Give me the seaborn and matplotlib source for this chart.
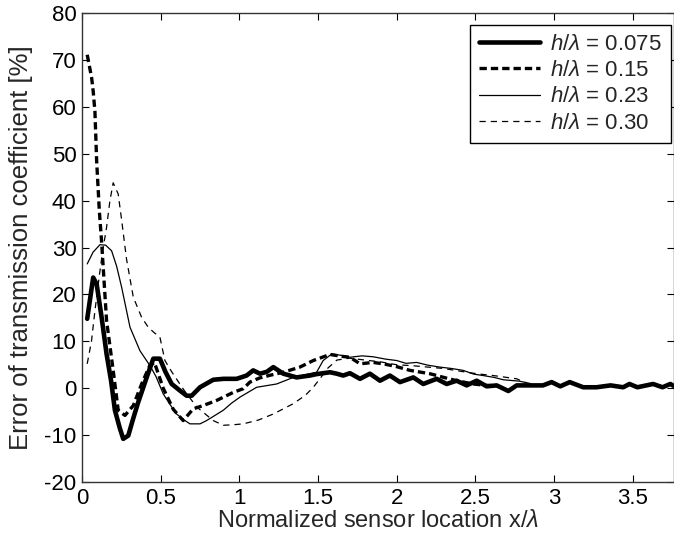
import matplotlib
matplotlib.use("Agg")
import matplotlib.pyplot as plt
import seaborn as sns
import numpy as np
import pandas as pd

# ---------------- data ----------------
x_075 = [0.033, 0.071, 0.093, 0.125, 0.156, 0.185, 0.209, 0.24, 0.262, 0.294, 0.325, 0.357,
         0.411, 0.453, 0.495, 0.53, 0.57, 0.622, 0.665, 0.697, 0.75, 0.792, 0.834, 0.9, 0.983,
         1.046, 1.088, 1.131, 1.175, 1.216, 1.279, 1.322, 1.364, 1.405, 1.449, 1.49, 1.533,
         1.576, 1.619, 1.66, 1.703, 1.767, 1.83, 1.894, 1.957, 2.021, 2.106, 2.169, 2.254,
         2.318, 2.381, 2.445, 2.509, 2.572, 2.636, 2.71, 2.763, 2.85, 2.93, 2.985, 3.04, 3.1,
         3.186, 3.27, 3.36, 3.44, 3.48, 3.53, 3.63, 3.69, 3.74, 3.76]
y_075 = [14.8, 23.6, 22.2, 15.0, 7.3, 1.5, -4.7, -8.5, -10.8, -10.1, -6.5, -3.0,
         2.3, 6.3, 6.3, 3.5, 0.9, -0.5, -1.6, -1.6, 0.2, 1.0, 1.8, 2.0, 2.0,
         2.7, 3.8, 3.1, 3.5, 4.5, 3.1, 2.7, 2.3, 2.5, 2.7, 3.0, 3.2,
         3.4, 3.1, 2.7, 3.2, 2.0, 3.1, 1.6, 2.7, 1.3, 2.3, 0.9, 2.0,
         0.9, 1.6, 0.6, 1.6, 0.4, 0.6, -0.6, 0.6, 0.6, 0.6, 1.3, 0.4, 1.3,
         0.2, 0.2, 0.6, 0.2, 0.9, 0.2, 0.9, 0.2, 0.9, 0.5]

x_15 = [0.033, 0.061, 0.071, 0.082, 0.093, 0.11, 0.124, 0.156, 0.198, 0.23, 0.273, 0.326,
        0.379, 0.43, 0.46, 0.516, 0.58, 0.643, 0.707, 0.77, 0.856, 0.961, 1.025, 1.067,
        1.13, 1.2, 1.28, 1.385, 1.47, 1.576, 1.65, 1.703, 1.767, 1.85, 1.915, 2.0, 2.085,
        2.21, 2.3, 2.381, 2.487, 2.57, 2.65]
y_15 = [71.1, 66.2, 63.3, 59.0, 48.4, 37.8, 31.4, 14.4, 3.8, -4.7, -5.8, -3.7,
        0.9, 4.8, 5.5, 0.0, -4.5, -6.9, -4.4, -3.7, -2.6, -0.9, -0.1, 1.3,
        2.2, 2.8, 3.4, 4.5, 5.9, 7.2, 6.8, 6.6, 5.2, 5.5, 5.2, 4.6, 3.8,
        3.1, 2.3, 1.6, 0.9, 0.6, 0.5]

x_23 = [0.033, 0.07, 0.114, 0.15, 0.188, 0.22, 0.252, 0.305, 0.368, 0.432, 0.47, 0.516,
        0.56, 0.601, 0.65, 0.686, 0.75, 0.792, 0.845, 0.898, 0.95, 1.004, 1.11, 1.237,
        1.343, 1.42, 1.491, 1.533, 1.587, 1.65, 1.703, 1.78, 1.851, 1.93, 2.0, 2.06,
        2.127, 2.2, 2.275, 2.35, 2.423, 2.49, 2.55, 2.62, 2.678, 2.78, 2.85]
y_23 = [26.5, 29.0, 30.6, 30.5, 29.3, 26.0, 21.5, 13.0, 8.0, 4.8, 2.5, -1.2,
        -3.5, -5.5, -6.8, -7.6, -7.6, -6.9, -5.8, -4.7, -3.2, -1.9, 0.2, 0.9,
        2.3, 2.9, 3.4, 5.9, 7.3, 7.0, 6.6, 6.9, 6.7, 6.2, 5.9, 5.3,
        5.5, 4.9, 4.5, 4.2, 3.8, 3.0, 2.7, 2.3, 1.8, 1.5, 1.0]

x_30 = [0.033, 0.06, 0.082, 0.11, 0.13, 0.156, 0.177, 0.198, 0.23, 0.252, 0.283, 0.326,
        0.379, 0.421, 0.46, 0.495, 0.527, 0.57, 0.65, 0.729, 0.834, 0.898, 0.96, 1.025,
        1.12, 1.216, 1.343, 1.42, 1.47, 1.512, 1.56, 1.62, 1.7, 1.8, 1.9, 2.0, 2.1, 2.2,
        2.3, 2.445, 2.53, 2.614, 2.7, 2.763, 2.826]
y_30 = [5.2, 10.0, 16.5, 24.0, 29.0, 34.3, 39.9, 43.8, 41.4, 35.8, 27.5, 19.4,
        15.1, 13.0, 11.8, 10.9, 5.9, 3.5, -0.5, -4.0, -6.9, -7.9, -7.8, -7.6,
        -6.8, -5.5, -3.3, -1.5, 0.2, 2.0, 4.2, 6.0, 6.4, 6.0, 5.6, 5.0, 4.8, 4.5,
        4.2, 3.4, 3.0, 2.7, 2.3, 2.0, 1.1]

labels = [r"$h/\lambda$ = 0.075", r"$h/\lambda$ = 0.15",
          r"$h/\lambda$ = 0.23", r"$h/\lambda$ = 0.30"]
x_ticks = [0, 0.5, 1, 1.5, 2, 2.5, 3, 3.5]
x_ticklabels = ["0", "0.5", "1", "1.5", "2", "2.5", "3", "3.5"]
y_ticks = [-20, -10, 0, 10, 20, 30, 40, 50, 60, 70, 80]

# ---------------- style ----------------
sns.set_theme(style="ticks")
plt.rcParams["font.family"] = ["Liberation Sans", "DejaVu Sans"]
plt.rcParams["mathtext.fontset"] = "custom"
plt.rcParams["mathtext.rm"] = "Liberation Sans"
plt.rcParams["mathtext.it"] = "Liberation Sans:italic"
plt.rcParams["axes.unicode_minus"] = False

fig = plt.figure(figsize=(6.74, 5.40), dpi=100)
ax = fig.add_axes([0.1217, 0.1074, 0.8783, 0.8685])

series = [
    (x_075, y_075, dict(lw=3.3, linestyle="-")),
    (x_15, y_15, dict(lw=2.4, linestyle=(0, (2.2, 1.2)))),
    (x_23, y_23, dict(lw=0.9, linestyle="-")),
    (x_30, y_30, dict(lw=0.9, linestyle=(0, (5, 4)))),
]
for (xs, ys, st), lab in zip(series, labels):
    df = pd.DataFrame({"x": xs, "y": ys})
    sns.lineplot(data=df, x="x", y="y", ax=ax, color="black", label=lab,
                 estimator=None, sort=False, **st)

ax.set_xlim(0, 3.763)
ax.set_ylim(-20, 80)
ax.set_xticks(x_ticks)
ax.set_xticklabels(x_ticklabels)
ax.set_yticks(y_ticks)
ax.tick_params(direction="in", length=5, width=0.8, top=True, right=True,
               labelsize=16, colors="black", pad=4)
for s in ax.spines.values():
    s.set_color("#333333")
    s.set_linewidth(1.0)

ax.set_xlabel(r"Normalized sensor location x/$\lambda$", fontsize=17, labelpad=1)
ax.set_ylabel("Error of transmission coefficient [%]", fontsize=18.5, labelpad=8)

leg = ax.legend(loc="upper right", bbox_to_anchor=(0.995, 0.975), borderaxespad=0,
                fontsize=16, frameon=True, fancybox=False, framealpha=1,
                edgecolor="black", handlelength=2.75, labelspacing=0.24,
                handletextpad=0.45, borderpad=0.4)
leg.get_frame().set_linewidth(1.0)

fig.savefig("out.png", dpi=100)
